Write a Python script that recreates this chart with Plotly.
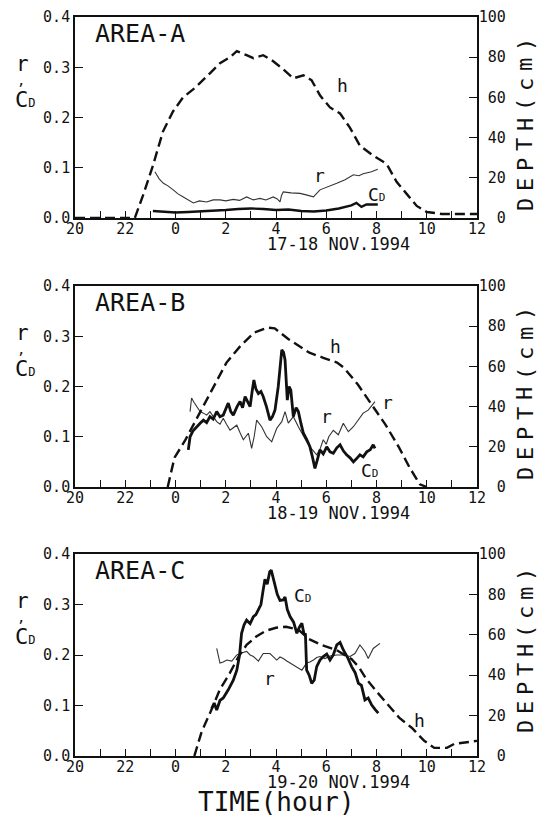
import plotly.graph_objects as go

W, H = 538, 821
FONT = "DejaVu Sans Mono"

# ---------------- data ----------------
hour_ticks = list(range(20, 37))
hour_labels = ["20", "", "22", "", "0", "", "2", "", "4", "", "6", "", "8", "", "10", "", "12"]
coef_ticks = [0, 0.1, 0.2, 0.3, 0.4]
coef_labels = ["0.0", "0.1", "0.2", "0.3", "0.4"]
depth_ticks = [0, 20, 40, 60, 80, 100]
depth_labels = ["\u00a0\u00a00", "\u00a020", "\u00a040", "\u00a060", "\u00a080", "100"]

# AREA-A  (17-18 Nov 1994)
hA_t = [20, 22.38, 22.7, 23.1, 23.5, 23.9, 24.3, 24.8, 25.37, 25.77, 26.17, 26.44, 26.83, 27.1, 27.49,
        27.89, 28.29, 28.69, 29.09, 29.42, 29.75, 30.15, 30.55, 30.94, 31.34, 31.87, 32.4, 32.8, 33.2,
        33.6, 34.0, 34.6, 36]
hA = [0, 0, 11, 26, 43, 53, 60, 65, 72, 77, 80, 83, 81, 79.5, 81, 78, 74, 69.5, 71, 68.5, 61, 55, 52,
      45, 36, 31, 27, 18, 12, 6, 3, 2, 2]
rA_t = [23.18, 23.35, 23.52, 23.7, 23.91, 24.1, 24.31, 24.5, 24.71, 24.95, 25.24, 25.5, 25.77, 26.0,
        26.3, 26.55, 26.83, 27.1, 27.36, 27.6, 27.89, 28.05, 28.16, 28.22, 28.29, 28.6, 28.96, 29.2,
        29.49, 29.75, 30.1, 30.42, 30.75, 31.08, 31.3, 31.47, 31.8, 32.05]
rA = [0.092, 0.078, 0.069, 0.064, 0.056, 0.048, 0.042, 0.036, 0.030, 0.034, 0.032, 0.036, 0.036, 0.034,
      0.037, 0.035, 0.042, 0.036, 0.039, 0.036, 0.042, 0.038, 0.032, 0.045, 0.052, 0.050, 0.049, 0.046,
      0.042, 0.056, 0.062, 0.069, 0.076, 0.086, 0.084, 0.088, 0.092, 0.097]
cdA_t = [23.1, 23.5, 24.0, 24.5, 25.0, 25.5, 26.0, 26.5, 27.0, 27.5, 28.0, 28.5, 29.0, 29.5, 30.0,
         30.5, 31.0, 31.2, 31.4, 31.6, 32.05]
cdA = [0.014, 0.013, 0.011, 0.012, 0.013, 0.015, 0.016, 0.018, 0.019, 0.018, 0.016, 0.017, 0.014,
       0.013, 0.015, 0.019, 0.025, 0.030, 0.022, 0.027, 0.027]

# AREA-B  (18-19 Nov 1994)
hB_t = [23.69, 23.96, 24.37, 24.79, 25.20, 25.61, 26.03, 26.58, 27.13, 27.68, 27.95, 28.50, 28.91,
        29.33, 29.88, 30.43, 30.70, 31.25, 31.80, 32.35, 32.90, 33.32, 33.73, 34.0]
hB = [0, 14.6, 22.9, 32.8, 42.8, 52.7, 61.9, 70.1, 76.8, 79.3, 78.9, 73.5, 70.1, 66.8, 64.3, 61.9,
      59.4, 51.1, 41.1, 31.2, 19.6, 9.6, 1.3, 0]
rB_t = [24.58, 24.64, 24.74, 24.84, 24.98, 25.11, 25.24, 25.37, 25.5, 25.64, 25.77, 25.90, 26.03,
        26.17, 26.30, 26.44, 26.57, 26.70, 26.90, 27.03, 27.13, 27.23, 27.43, 27.63, 27.83, 28.03,
        28.23, 28.36, 28.49, 28.69, 28.89, 29.09, 29.22, 29.35, 29.50, 29.62, 29.75, 29.88, 30.0,
        30.10, 30.28, 30.48, 30.68, 30.88, 31.08, 31.28, 31.47, 31.67, 31.81, 31.94]
rB = [0.150, 0.177, 0.168, 0.160, 0.150, 0.147, 0.143, 0.150, 0.140, 0.130, 0.125, 0.137, 0.125,
      0.113, 0.118, 0.123, 0.108, 0.094, 0.107, 0.077, 0.100, 0.133, 0.120, 0.100, 0.090, 0.117,
      0.130, 0.150, 0.127, 0.140, 0.120, 0.100, 0.090, 0.080, 0.070, 0.064, 0.075, 0.094, 0.085,
      0.100, 0.113, 0.104, 0.127, 0.110, 0.120, 0.133, 0.147, 0.153, 0.163, 0.170]
cdB_t = [24.51, 24.58, 24.7, 24.84, 24.98, 25.11, 25.24, 25.37, 25.5, 25.64, 25.77, 25.90, 26.0,
         26.10, 26.20, 26.30, 26.45, 26.57, 26.67, 26.77, 26.87, 26.97, 27.05, 27.12, 27.20, 27.30,
         27.40, 27.49, 27.62, 27.76, 27.86, 27.96, 28.09, 28.17, 28.23, 28.30, 28.36, 28.45, 28.52,
         28.59, 28.69, 28.80, 28.89, 29.0, 29.09, 29.22, 29.35, 29.45, 29.55, 29.65, 29.75, 29.88,
         30.02, 30.15, 30.28, 30.42, 30.55, 30.68, 30.81, 30.95, 31.08, 31.2, 31.34, 31.47, 31.61,
         31.75, 31.87, 31.94]
cdB = [0.074, 0.100, 0.112, 0.120, 0.127, 0.133, 0.128, 0.140, 0.135, 0.150, 0.140, 0.143, 0.155,
       0.167, 0.150, 0.143, 0.160, 0.170, 0.158, 0.180, 0.170, 0.160, 0.190, 0.213, 0.195, 0.186,
       0.190, 0.180, 0.160, 0.133, 0.140, 0.153, 0.200, 0.245, 0.273, 0.268, 0.253, 0.173, 0.200,
       0.193, 0.140, 0.158, 0.150, 0.125, 0.107, 0.095, 0.080, 0.060, 0.037, 0.055, 0.074, 0.066,
       0.080, 0.070, 0.067, 0.078, 0.084, 0.072, 0.064, 0.058, 0.050, 0.056, 0.064, 0.060, 0.070,
       0.074, 0.084, 0.077]

# AREA-C  (19-20 Nov 1994)
hC_t = [24.75, 25.04, 25.4, 25.77, 26.16, 26.5, 26.83, 27.2, 27.6, 28.0, 28.4, 28.9, 29.3, 29.8,
        30.4, 31.0, 31.3, 31.6, 32.0, 32.4, 32.9, 33.4, 33.9, 34.3, 34.8, 35.1, 36]
hC = [0, 12, 22, 33, 41, 49, 55, 59, 62, 63.5, 64, 62.5, 58, 55, 52.5, 48, 44, 38, 32, 26, 19, 14,
      7.5, 4, 4, 6, 7.5]
rC_t = [25.64, 25.70, 25.77, 25.90, 26.04, 26.24, 26.44, 26.63, 26.83, 26.97, 27.10, 27.30, 27.49,
        27.76, 28.03, 28.16, 28.29, 28.43, 28.56, 28.70, 28.83, 29.03, 29.22, 29.35, 29.49, 29.62,
        29.75, 29.95, 30.15, 30.42, 30.68, 30.95, 31.14, 31.34, 31.54, 31.67, 31.87, 32.14]
rC = [0.213, 0.200, 0.184, 0.186, 0.190, 0.188, 0.200, 0.204, 0.207, 0.200, 0.197, 0.188, 0.203,
      0.203, 0.190, 0.196, 0.193, 0.188, 0.184, 0.180, 0.177, 0.170, 0.184, 0.186, 0.190, 0.195,
      0.197, 0.193, 0.198, 0.200, 0.200, 0.197, 0.203, 0.220, 0.207, 0.193, 0.213, 0.223]
cdC_t = [25.44, 25.54, 25.64, 25.77, 25.90, 26.10, 26.30, 26.44, 26.55, 26.63, 26.73, 26.83, 26.97,
         27.10, 27.20, 27.30, 27.40, 27.49, 27.56, 27.65, 27.75, 27.81, 27.88, 27.95, 28.05, 28.16,
         28.29, 28.36, 28.45, 28.56, 28.70, 28.83, 28.93, 29.03, 29.12, 29.17, 29.22, 29.32, 29.42,
         29.52, 29.62, 29.75, 29.88, 30.02, 30.15, 30.28, 30.42, 30.55, 30.68, 30.85, 31.01, 31.15,
         31.28, 31.40, 31.54, 31.67, 31.81, 31.95, 32.07]
cdC = [0.094, 0.105, 0.091, 0.110, 0.115, 0.131, 0.150, 0.170, 0.200, 0.243, 0.260, 0.269, 0.262,
       0.276, 0.280, 0.289, 0.300, 0.329, 0.350, 0.340, 0.365, 0.368, 0.355, 0.342, 0.320, 0.308,
       0.309, 0.315, 0.290, 0.276, 0.265, 0.243, 0.255, 0.263, 0.240, 0.243, 0.170, 0.160, 0.144,
       0.150, 0.177, 0.190, 0.197, 0.202, 0.190, 0.200, 0.220, 0.225, 0.210, 0.195, 0.177, 0.165,
       0.144, 0.140, 0.111, 0.115, 0.101, 0.092, 0.085]

panels = [
    dict(title="AREA-A", date="17-18 NOV.1994", top=17, bottom=218,
         h=(hA_t, hA), r=(rA_t, rA), cd=(cdA_t, cdA), cdw=2.4, dcy=108, dstep=20,
         labels=[("h", 30.63, 66, "y2"), ("r", 29.74, 0.084, "y"), ("CD", 32.0, 0.047, "y")]),
    dict(title="AREA-B", date="18-19 NOV.1994", top=286, bottom=487,
         h=(hB_t, hB), r=(rB_t, rB), cd=(cdB_t, cdB), cdw=2.8, dcy=108, dstep=20,
         labels=[("h", 30.36, 70, "y2"), ("r", 30.0, 0.141, "y"), ("r", 32.42, 0.168, "y"),
                 ("CD", 31.73, 0.032, "y")]),
    dict(title="AREA-C", date="19-20 NOV.1994", top=554, bottom=756,
         h=(hC_t, hC), r=(rC_t, rC), cd=(cdC_t, cdC), cdw=2.8, dcy=97, dstep=19,
         labels=[("CD", 29.05, 0.318, "y"), ("r", 27.75, 0.153, "y"), ("h", 33.73, 17.4, "y2")]),
]

X0, X1 = 75, 477


def px(x):
    return x / W


def py(y):
    return 1 - y / H


def note(text, x, y, size, **kw):
    d = dict(text=text, x=px(x), y=py(y), xref="paper", yref="paper", showarrow=False,
             xanchor="center", yanchor="middle", font=dict(size=size, family=FONT, color="#111"))
    d.update(kw)
    return d


fig = go.Figure()
layout = dict(template="none", width=W, height=H, margin=dict(l=0, r=0, t=0, b=0, pad=0),
              showlegend=False, paper_bgcolor="white", plot_bgcolor="white",
              font=dict(family=FONT, size=15, color="#111"))
annotations = []

for i, p in enumerate(panels):
    xa = "x" if i == 0 else f"x{i+1}"
    yl = f"y{2*i+1}" if i else "y"
    yr = f"y{2*i+2}"
    xkey = "xaxis" if i == 0 else f"xaxis{i+1}"
    ylkey = "yaxis" if i == 0 else f"yaxis{2*i+1}"
    yrkey = f"yaxis{2*i+2}"
    ydom = [py(p["bottom"]), py(p["top"])]

    common = dict(ticks="inside", tickwidth=1.3, tickcolor="#111", showline=True, linewidth=1.6,
                  linecolor="#111", showgrid=False, zeroline=False, automargin=False,
                  tickfont=dict(size=15, family=FONT, color="#111"), tickmode="array")
    layout[xkey] = dict(domain=[px(X0), px(X1)], range=[20, 36], anchor=yl,
                        tickvals=hour_ticks, ticktext=hour_labels, ticklen=7, mirror=True,
                        ticklabelstandoff=-4, **common)
    layout[ylkey] = dict(domain=ydom, range=[0, 0.4], anchor=xa,
                         tickvals=coef_ticks, ticktext=coef_labels, ticklen=8, **common)
    layout[yrkey] = dict(domain=ydom, range=[0, 100], anchor=xa, overlaying=yl, side="right",
                         tickvals=depth_ticks, ticktext=depth_labels, ticklen=8,
                         ticklabelstandoff=-3, **common)

    fig.add_trace(go.Scatter(x=p["h"][0], y=p["h"][1], xaxis=xa, yaxis=yr, mode="lines",
                             line=dict(color="#111", width=2.4, dash="10px,5px")))
    fig.add_trace(go.Scatter(x=p["r"][0], y=p["r"][1], xaxis=xa, yaxis=yl, mode="lines",
                             line=dict(color="#333", width=1.1)))
    fig.add_trace(go.Scatter(x=p["cd"][0], y=p["cd"][1], xaxis=xa, yaxis=yl, mode="lines",
                             line=dict(color="#111", width=p["cdw"])))

    top = p["top"]
    annotations.append(note(p["title"], 93, top + 16, 25, xanchor="left"))
    annotations.append(note(p["date"], 338, p["bottom"] + 26, 17))
    annotations.append(note("r", 22, top + 47, 21))
    annotations.append(note(",", 21, top + 63, 14))
    annotations.append(note("C<span style='font-size:12px'>D</span>", 25, top + 82, 22))
    word = "DEPTH(cm)"
    for k, ch in enumerate(word):
        annotations.append(note(ch, 525, top + p["dcy"] + (4 - k) * p["dstep"], 22, textangle=-90))
    for txt, lx, ly, axis in p["labels"]:
        yref = yl if axis == "y" else yr
        t = "C<span style='font-size:11px'>D</span>" if txt == "CD" else txt
        annotations.append(dict(text=t, x=lx, y=ly, xref=xa, yref=yref, showarrow=False,
                                xanchor="center", yanchor="middle",
                                font=dict(size=18, family=FONT, color="#111")))

annotations.append(note("TIME(hour)", 276, 802, 26))

layout["annotations"] = annotations
fig.update_layout(**layout)
fig.write_html("out.html", config={"displayModeBar": False},
               post_script="document.body.style.margin='0px';document.body.style.overflow='hidden';")
